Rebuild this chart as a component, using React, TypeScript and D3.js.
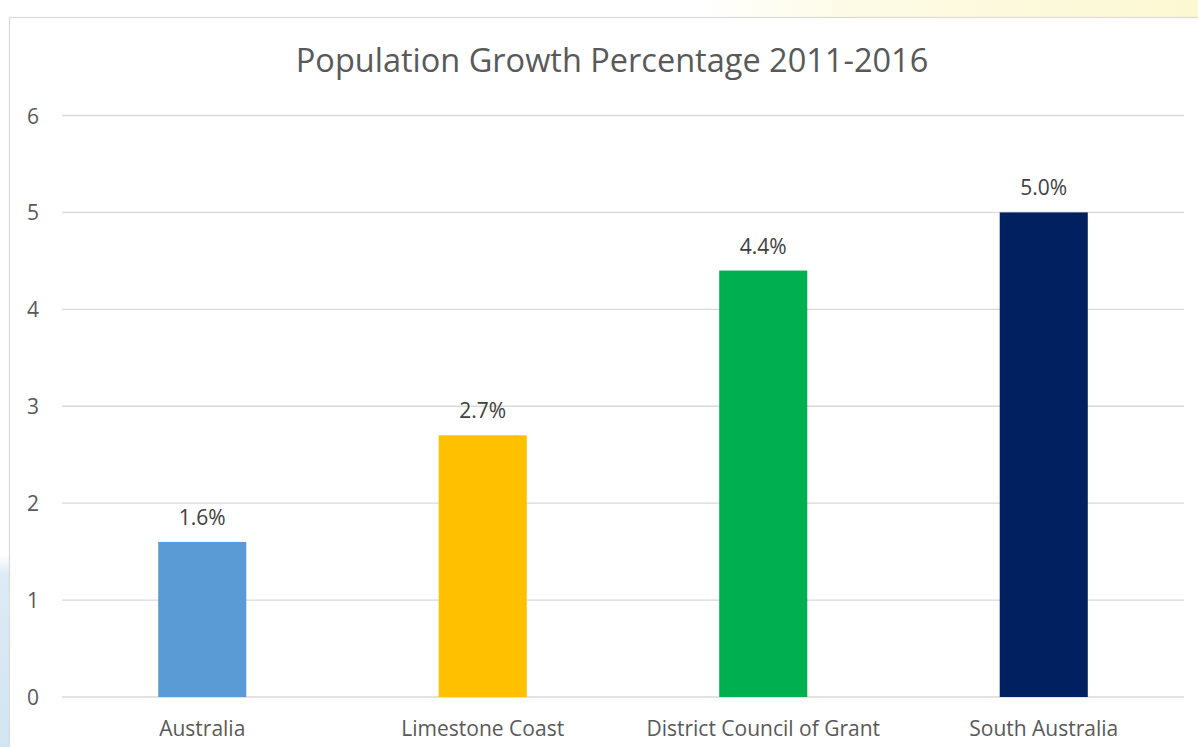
import React from "react";
import * as d3 from "d3";

const categories = ["Australia", "Limestone Coast", "District Council of Grant", "South Australia"];
const values = [1.6, 2.7, 4.4, 5.0];
const colors = ["#5B9BD5", "#FFC000", "#00B050", "#002060"];
const yTicks = [0, 1, 2, 3, 4, 5, 6];
const title = "Population Growth Percentage 2011-2016";

export default function App() {
  const W = 1198, H = 747;
  const left = 62, right = 1184, top = 115.5, bottom = 697;
  const x = d3.scaleBand<string>().domain(categories).range([left, right]).padding(0);
  const y = d3.scaleLinear().domain([0, 6]).range([bottom, top]);
  const barW = x.step() * 0.314;
  const font = "'Open Sans', 'Liberation Sans', sans-serif";
  return (
    <svg width={W} height={H} style={{ position: "absolute", left: 0, top: 0, display: "block" }}>
      <defs>
        <linearGradient id="lb" x1="0" y1="0" x2="0" y2="1">
          <stop offset="0" stopColor="#ffffff" />
          <stop offset="0.1" stopColor="#dcebf5" />
          <stop offset="1" stopColor="#d2e5f2" />
        </linearGradient>
        <linearGradient id="ty" x1="0" y1="0" x2="1" y2="0">
          <stop offset="0" stopColor="#ffffff" />
          <stop offset="0.3" stopColor="#fdfbe6" />
          <stop offset="1" stopColor="#fcf8d2" />
        </linearGradient>
      </defs>
      <rect x={0} y={0} width={W} height={H} fill="#ffffff" />
      <rect x={0} y={555} width={9} height={H - 555} fill="url(#lb)" />
      <rect x={700} y={0} width={W - 700} height={17} fill="url(#ty)" />
      <rect x={9.5} y={17.5} width={W} height={H} fill="#ffffff" stroke="#d9d9d9" strokeWidth={1.2} />
      <text x={612} y={72} textAnchor="middle" fontFamily={font} fontSize={32.5} fill="#595959">{title}</text>
      {yTicks.map((t) => (
        <g key={t}>
          <line x1={left} x2={right} y1={y(t)} y2={y(t)} stroke="#d9d9d9" strokeWidth={1.3} />
          <text x={33} y={y(t) + 8} textAnchor="middle" fontFamily={font} fontSize={21} fill="#595959">{t}</text>
        </g>
      ))}
      {categories.map((c, i) => {
        const cx = x(c)! + x.bandwidth() / 2;
        return (
          <g key={c}>
            <rect x={cx - barW / 2} y={y(values[i])} width={barW} height={y(0) - y(values[i])} fill={colors[i]} />
            <text x={cx} y={y(values[i]) - 17} textAnchor="middle" fontFamily={font} fontSize={21} fill="#404040">{values[i].toFixed(1) + "%"}</text>
            <text x={cx} y={736} textAnchor="middle" fontFamily={font} fontSize={21} fill="#595959">{c}</text>
          </g>
        );
      })}
    </svg>
  );
}
